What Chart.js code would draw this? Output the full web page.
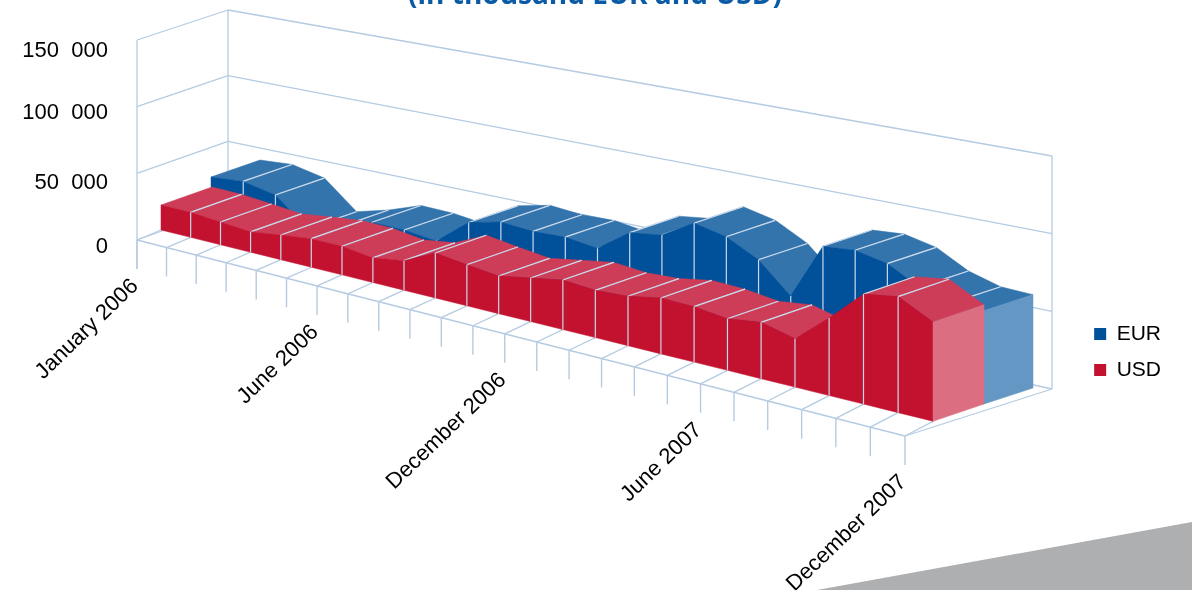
<!DOCTYPE html>
<html>
<head>
<meta charset="utf-8">
<title>Deposits</title>
<script src="https://cdn.jsdelivr.net/npm/chart.js@4"></script>
<style>
    html, body { margin: 0; background: #fff; overflow: hidden; }
    #corner { position: absolute; left: 0; top: 0; width: 1192px; height: 590px; background: #aeafb1;
              clip-path: polygon(817px 590px, 1192px 522px, 1192px 590px); }
    canvas { position: absolute; left: 0; top: 0; }
</style>
</head>
<body>
<div id="corner"></div>
<canvas id="chart" width="1192" height="590"></canvas>
<script>
const FONT_FAMILY = '"Liberation Sans", Arial, sans-serif';

const months = ['January 2006', '', '', '', '', '', 'June 2006', '', '', '', '', '',
    'December 2006', '', '', '', '', '', 'June 2007', '', '', '', '', '', 'December 2007'];

const eurValues = [26500, 29000, 24600, 5500, 12600, 21700, 21700, 19500, 38200, 44000, 42700, 44000, 41500,
    57500, 61000, 74100, 69800, 59200, 40000, 78000, 80100, 76100, 65500, 60100, 59800];

const usdValues = [18900, 18800, 17000, 15100, 18200, 20900, 20800, 17800, 21200, 32000, 29000, 26400, 30400,
    34300, 32500, 33800, 37900, 37300, 34500, 37400, 31900, 50700, 71500, 74900, 63700];

const valueTicks = [0, 50000, 100000, 150000];
const valueLabels = ['0', '50  000', '100  000', '150  000'];

const GRID = '#b5cbe2';
const SEAM = '#c9d9ea';

// where each extruded band sits on the page, per series
const bands = [
    {
        front: [[211, 212], [984, 404]], back: [[260, 195], [1033, 388]], warp: 1,
        top: '#3474ad', side: '#00509a', cap: '#6597c4',
    },
    {
        front: [[161, 230], [933, 421.3]], back: [[212, 212], [984, 404]], warp: 1.0885,
        top: '#cd3d58', side: '#c3122f', cap: '#dc6e82',
    },
];
const floorLine = { from: [137, 240], to: [905, 436], warp: 1.0885 };
const walls = { left: [137, 240, 200], back: [228, 207, 197], right: [1052, 389, 233] };
const TICK_LENGTH = 29;
const valueLabelShift = [0, 3, -1, 4];

function warped(t, w) {
    return t / (w + (1 - w) * t);
}

function fraction(scale, i) {
    return (scale.getPixelForValue(i) - scale.left) / scale.width;
}

function rise(scale, v) {
    return (scale.bottom - scale.getPixelForValue(v)) / scale.height;
}

// page position of one value of a series on the front or back edge of its band
function project(chart, band, edge, i, v) {
    const s = warped(fraction(chart.scales.x, i), band.warp);
    const a = band[edge][0], b = band[edge][1];
    const height = (198 + 36 * s) * rise(chart.scales.y, v);
    return [a[0] + (b[0] - a[0]) * s, a[1] + (b[1] - a[1]) * s - height];
}

function polygon(ctx, pts, fill) {
    ctx.beginPath();
    pts.forEach((p, n) => n ? ctx.lineTo(p[0], p[1]) : ctx.moveTo(p[0], p[1]));
    ctx.closePath();
    ctx.fillStyle = fill;
    ctx.strokeStyle = fill;
    ctx.lineWidth = 0.5;
    ctx.fill();
    ctx.stroke();
}

function segment(ctx, a, b, color, width) {
    ctx.beginPath();
    ctx.moveTo(a[0], a[1]);
    ctx.lineTo(b[0], b[1]);
    ctx.strokeStyle = color;
    ctx.lineWidth = width;
    ctx.stroke();
}

function drawWalls(chart, ctx) {
    const y = chart.scales.y;
    const at = (w, v) => [w[0], w[1] - w[2] * rise(y, v)];
    valueTicks.forEach((v) => {
        segment(ctx, at(walls.left, v), at(walls.back, v), GRID, 1.3);
        segment(ctx, at(walls.back, v), at(walls.right, v), GRID, 1.3);
    });
    const top = valueTicks[valueTicks.length - 1];
    segment(ctx, at(walls.back, 0), at(walls.back, top), GRID, 1.3);
    segment(ctx, at(walls.right, 0), at(walls.right, top), GRID, 1.3);
    segment(ctx, [walls.left[0], walls.left[1] + TICK_LENGTH], at(walls.left, top), GRID, 1.3);
    segment(ctx, at(walls.right, 0), floorLine.to, GRID, 1.3);
}

function floorTick(chart, i) {
    const s = warped(fraction(chart.scales.x, i), floorLine.warp);
    return [floorLine.from[0] + (floorLine.to[0] - floorLine.from[0]) * s,
        floorLine.from[1] + (floorLine.to[1] - floorLine.from[1]) * s];
}

function drawFloor(chart, ctx) {
    segment(ctx, floorLine.from, floorLine.to, GRID, 1.3);
    months.forEach((m, i) => {
        const p = floorTick(chart, i);
        segment(ctx, p, [p[0], p[1] + TICK_LENGTH], GRID, 1.4);
        segment(ctx, p, project(chart, bands[1], 'front', i, 0), GRID, 1.3);
    });
}

function drawBand(chart, ctx, band, data) {
    const last = data.length - 1;
    const front = data.map((v, i) => project(chart, band, 'front', i, v));
    const back = data.map((v, i) => project(chart, band, 'back', i, v));
    const base = data.map((v, i) => project(chart, band, 'front', i, 0));

    // roof pieces, left to right, leaving out the ones that lean away from the viewer
    for (let i = 0; i < last; i++) {
        const ax = front[i + 1][0] - front[i][0], ay = front[i + 1][1] - front[i][1];
        const bx = back[i][0] - front[i][0], by = back[i][1] - front[i][1];
        if (ax * by - ay * bx > 0) continue;
        polygon(ctx, [front[i], front[i + 1], back[i + 1], back[i]], band.top);
        if (i > 0) segment(ctx, front[i], back[i], SEAM, 1.2);
        if (i + 1 < last) segment(ctx, front[i + 1], back[i + 1], SEAM, 1.2);
    }

    polygon(ctx, front.concat(base.slice().reverse()), band.side);
    for (let i = 1; i < last; i++) {
        segment(ctx, front[i], base[i], SEAM, 1.2);
    }

    polygon(ctx, [front[last], back[last], project(chart, band, 'back', last, 0), base[last]], band.cap);
}

function drawLabels(chart, ctx) {
    const y = chart.scales.y;
    ctx.fillStyle = '#000';
    ctx.font = '22px ' + FONT_FAMILY;
    ctx.textAlign = 'right';
    ctx.textBaseline = 'middle';
    valueTicks.forEach((v, n) => {
        ctx.fillText(valueLabels[n], 108, walls.left[1] - walls.left[2] * rise(y, v) + 7 + valueLabelShift[n]);
    });
    months.forEach((m, i) => {
        if (!m) return;
        const p = floorTick(chart, i);
        ctx.save();
        ctx.translate(p[0] - 2, p[1] + TICK_LENGTH + 14);
        ctx.rotate(-44 * Math.PI / 180);
        ctx.fillText(m, 0, 0);
        ctx.restore();
    });
    ctx.fillStyle = '#0a5aa5';
    ctx.font = 'bold 28px "Open Sans", sans-serif';
    ctx.textAlign = 'center';
    ctx.textBaseline = 'alphabetic';
    ctx.fillText('(in thousand EUR and USD)', 595, 4);
}

const boxes3d = {
    id: 'boxes3d',
    afterDatasetsDraw(chart) {
        const ctx = chart.ctx;
        ctx.save();
        ctx.lineJoin = 'round';
        drawWalls(chart, ctx);
        drawFloor(chart, ctx);
        bands.forEach((band, n) => drawBand(chart, ctx, band, chart.data.datasets[n].data));
        drawLabels(chart, ctx);
        ctx.restore();
    },
};

new Chart(document.getElementById('chart'), {
    type: 'line',
    data: {
        labels: months,
        datasets: [
            { label: 'EUR', data: eurValues, backgroundColor: '#00509a', borderWidth: 0, pointRadius: 0, showLine: false },
            { label: 'USD', data: usdValues, backgroundColor: '#c3122f', borderWidth: 0, pointRadius: 0, showLine: false },
        ],
    },
    options: {
        responsive: false,
        animation: false,
        layout: { padding: { top: 114, right: 21 } },
        scales: {
            x: { display: false },
            y: { display: false, min: 0, max: 150000, ticks: { stepSize: 50000 } },
        },
        plugins: {
            title: { display: false },
            tooltip: { enabled: false },
            legend: {
                position: 'right',
                labels: {
                    boxWidth: 12,
                    boxHeight: 12,
                    padding: 15,
                    color: '#000',
                    font: { family: FONT_FAMILY, size: 21 },
                },
            },
        },
    },
    plugins: [boxes3d],
});
</script>
</body>
</html>
